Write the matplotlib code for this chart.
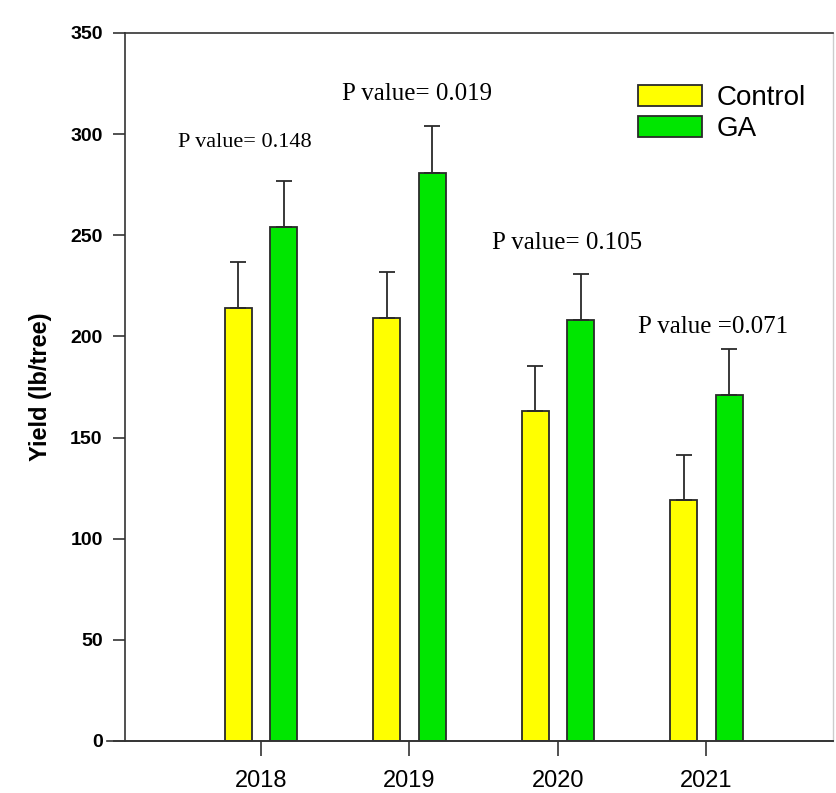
import matplotlib
matplotlib.use("Agg")
import matplotlib.pyplot as plt
from matplotlib.patches import Patch
import numpy as np

plt.rcParams['font.family'] = ['Liberation Sans', 'DejaVu Sans']

# data
years = ['2018', '2019', '2020', '2021']
control = [214, 209, 163, 119]
control_err = [23, 23, 22.5, 22.5]
ga = [254, 281, 208, 171]
ga_err = [23, 23, 23, 22.6]
p_labels = ['P value= 0.148', 'P value= 0.019', 'P value= 0.105', 'P value =0.071']
p_x = [-0.56, 0.545, 1.555, 2.537]
p_y = [296, 320, 246, 204.5]
p_size = [16, 18, 18, 18]

fig = plt.figure(figsize=(8.37, 7.93), dpi=100)
ax = fig.add_axes([0.1493, 0.0656, 0.8459, 0.8928])

x = np.arange(len(years))
w = 0.182
off = 0.152
edge = '#2a2a2a'
ax.bar(x - off, control, w, color='#ffff00', edgecolor=edge, linewidth=1.3, zorder=2)
ax.bar(x + off, ga, w, color='#00e600', edgecolor=edge, linewidth=1.3, zorder=2)
ax.errorbar(x - off, control, yerr=[np.zeros(4), control_err], fmt='none',
            ecolor=edge, elinewidth=1.3, capsize=6, capthick=1.3, zorder=3)
ax.errorbar(x + off, ga, yerr=[np.zeros(4), ga_err], fmt='none',
            ecolor=edge, elinewidth=1.3, capsize=6, capthick=1.3, zorder=3)

for lab, px, py, fs in zip(p_labels, p_x, p_y, p_size):
    ax.text(px, py, lab, ha='left', va='center', fontsize=fs,
            family=['Liberation Serif', 'DejaVu Serif'])

ax.set_xlim(-0.916, 3.852)
ax.set_ylim(0, 350)
ax.set_yticks(range(0, 351, 50))
ax.set_xticks(x)
ax.set_xticklabels(years, fontsize=17)
for t in ax.get_yticklabels():
    t.set_fontsize(14)
    t.set_fontweight('bold')
ax.tick_params(axis='y', direction='out', length=9, width=1.2, pad=7, colors='#333333', labelcolor='black')
ax.tick_params(axis='x', direction='out', length=11, width=1.2, pad=10, colors='#333333', labelcolor='black')
ax.set_ylabel('Yield (lb/tree)', fontsize=17, fontweight='bold', labelpad=13)

for s in ['left', 'bottom', 'top']:
    ax.spines[s].set_color('#333333')
    ax.spines[s].set_linewidth(1.2)
ax.spines['right'].set_color('#cccccc')
ax.spines['right'].set_linewidth(1.0)
# bottom axis line runs a little past the y axis
ax.plot([-0.025, 1.0], [0, 0], transform=ax.transAxes, color='#333333',
        linewidth=1.2, clip_on=False, zorder=4)

handles = [Patch(facecolor='#ffff00', edgecolor=edge, linewidth=1.3, label='Control'),
           Patch(facecolor='#00e600', edgecolor=edge, linewidth=1.3, label='GA')]
ax.legend(handles=handles, loc='upper left', bbox_to_anchor=(0.7246, 0.927),
          frameon=False, fontsize=20, handlelength=2.29, handleheight=0.78,
          handletextpad=0.54, labelspacing=0.19, borderpad=0, borderaxespad=0)

fig.savefig('out.png', dpi=100, facecolor='white')
